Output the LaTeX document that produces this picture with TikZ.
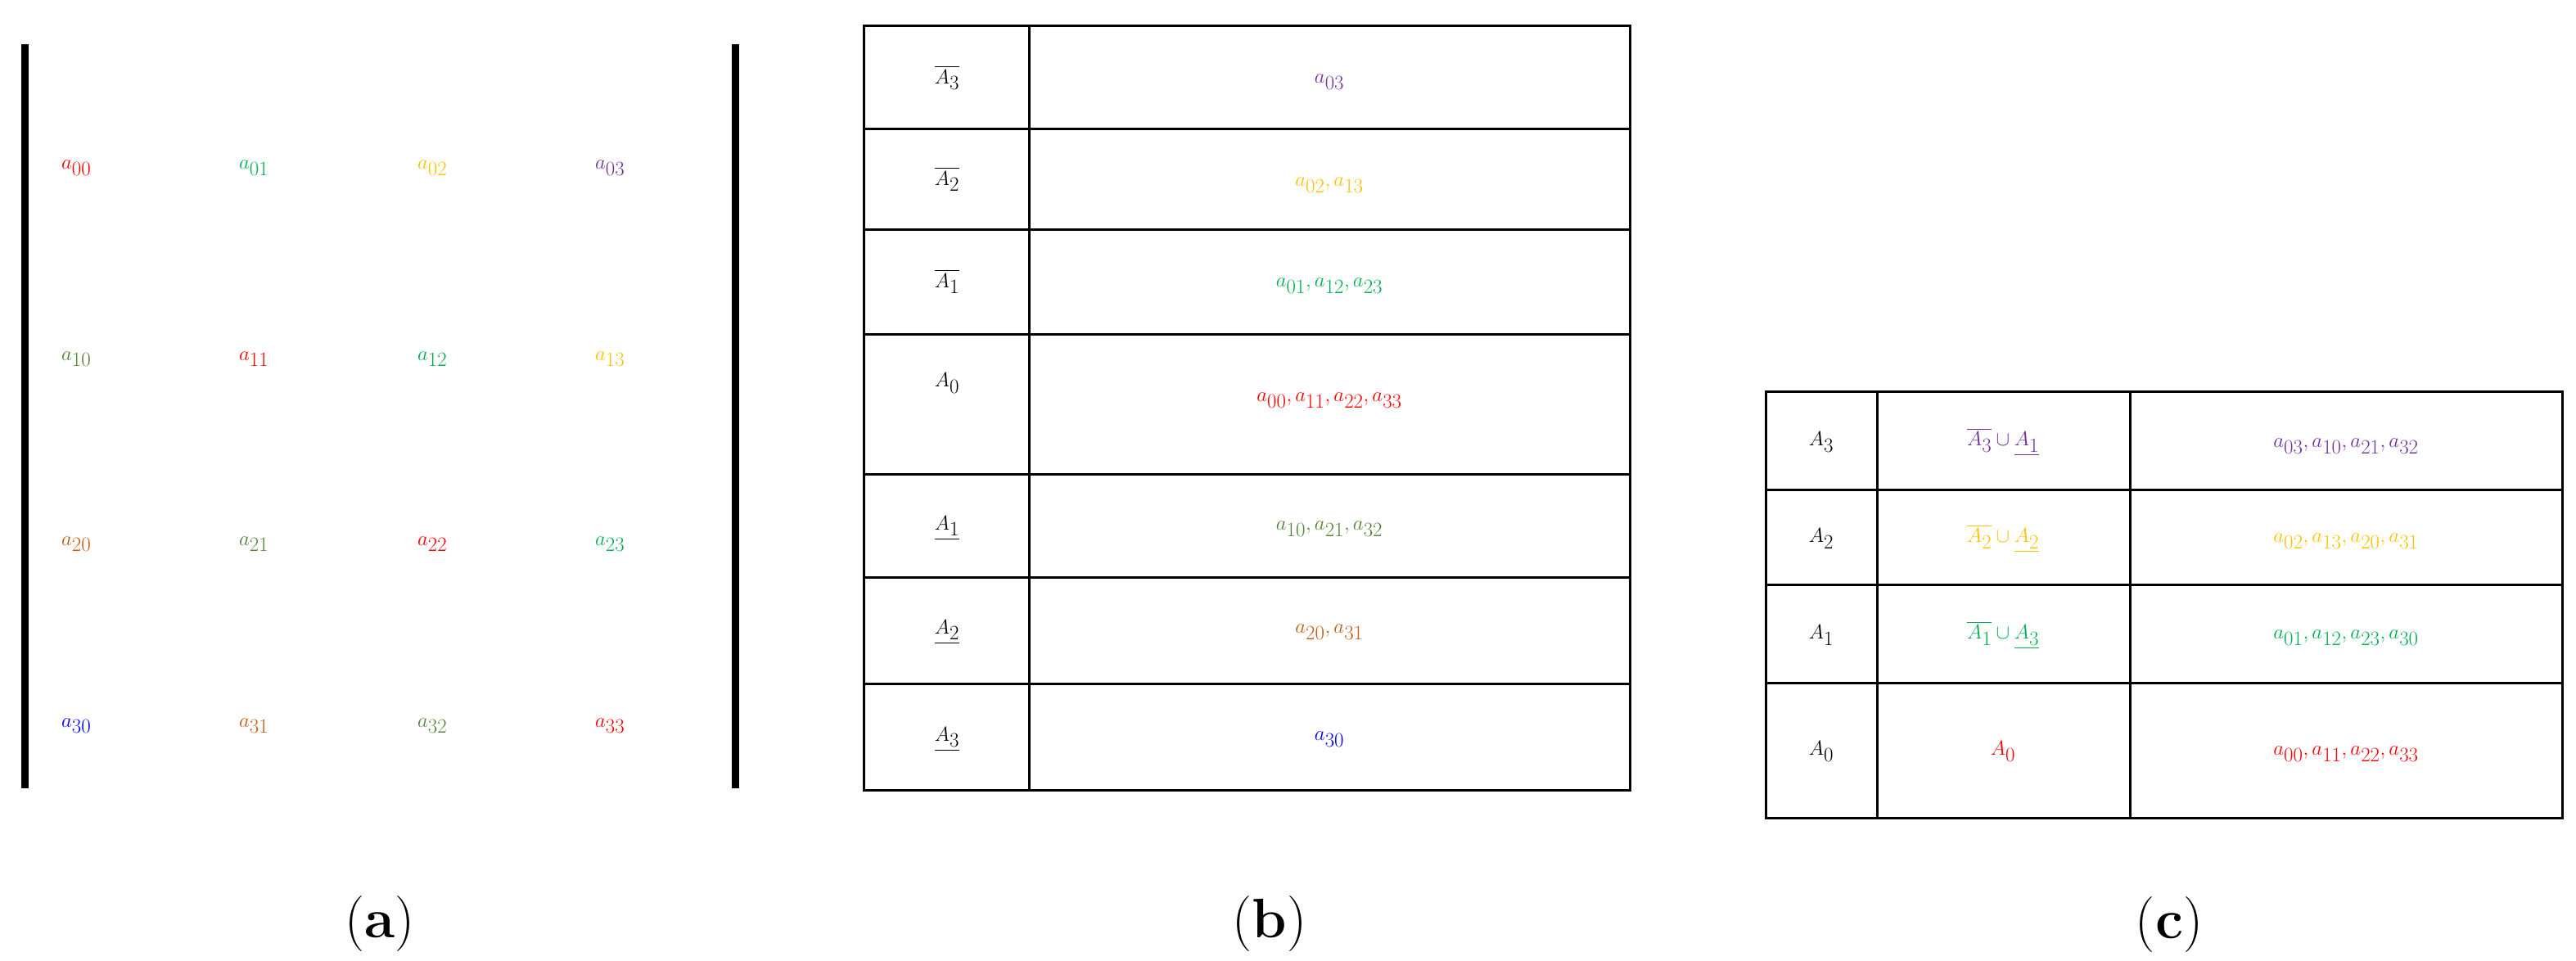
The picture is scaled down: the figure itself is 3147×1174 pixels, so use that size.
\documentclass[tikz,border=0pt]{standalone}
\usepackage{amsmath}
\definecolor{cR}{HTML}{FF0000}
\definecolor{cG}{HTML}{00B050}
\definecolor{cY}{HTML}{FFC000}
\definecolor{cP}{HTML}{7030A0}
\definecolor{cO}{HTML}{548235}
\definecolor{cB}{HTML}{C55A11}
\definecolor{cU}{HTML}{0000FF}
\tikzset{
  big/.style={inner sep=0pt, font=\fontsize{100}{110}\selectfont},
  mid/.style={inner sep=0pt, font=\fontsize{80}{90}\selectfont},
  small/.style={inner sep=0pt, font=\fontsize{58}{64}\selectfont},
  sublabel/.style={inner sep=0pt, font=\fontsize{68}{76}\selectfont},
  bar/.style={line width=9pt},
  grid/.style={line width=3pt},
}
\begin{document}
\begin{tikzpicture}[x=1pt,y=-1pt]
\useasboundingbox (0,0) rectangle (3147,1174);
% (a)
\draw[bar] (30,54) -- (30,963);
\draw[bar] (898,54) -- (898,963);
\node[big,anchor=base west,text=cR] (m00) at (75,207) {$a_{00}$};
\node[big,anchor=base west,text=cG] (m01) at (292,207) {$a_{01}$};
\node[big,anchor=base west,text=cY] (m02) at (510,207) {$a_{02}$};
\node[big,anchor=base west,text=cP] (m03) at (727,207) {$a_{03}$};
\node[big,anchor=base west,text=cO] (m10) at (75,440) {$a_{10}$};
\node[big,anchor=base west,text=cR] (m11) at (292,440) {$a_{11}$};
\node[big,anchor=base west,text=cG] (m12) at (510,440) {$a_{12}$};
\node[big,anchor=base west,text=cY] (m13) at (727,440) {$a_{13}$};
\node[big,anchor=base west,text=cB] (m20) at (75,666) {$a_{20}$};
\node[big,anchor=base west,text=cO] (m21) at (292,666) {$a_{21}$};
\node[big,anchor=base west,text=cR] (m22) at (510,666) {$a_{22}$};
\node[big,anchor=base west,text=cG] (m23) at (727,666) {$a_{23}$};
\node[big,anchor=base west,text=cU] (m30) at (75,888) {$a_{30}$};
\node[big,anchor=base west,text=cB] (m31) at (292,888) {$a_{31}$};
\node[big,anchor=base west,text=cO] (m32) at (510,888) {$a_{32}$};
\node[big,anchor=base west,text=cR] (m33) at (727,888) {$a_{33}$};
\node[sublabel] (la) at (464,1129) {(\textbf{a})};
% (b)
\draw[grid] (1055,32) rectangle (1991,965);
\draw[grid] (1257,32) -- (1257,965);
\foreach \yy in {158,281,408,579,705,835} \draw[grid] (1055,\yy) -- (1991,\yy);
\node[mid] (b1) at (1157,95) {$\overline{A_3}$};
\node[mid] (b2) at (1157,219) {$\overline{A_2}$};
\node[mid] (b3) at (1157,344) {$\overline{A_1}$};
\node[mid] (b4) at (1157,468) {$A_0$};
\node[mid] (b5) at (1157,645) {$\underline{A_1}$};
\node[mid] (b6) at (1157,772) {$\underline{A_2}$};
\node[mid] (b7) at (1157,903) {$\underline{A_3}$};
\node[big,text=cP] (c1) at (1624,100) {$a_{03}$};
\node[big,text=cY] (c2) at (1624,226) {$a_{02},a_{13}$};
\node[big,text=cG] (c3) at (1624,349) {$a_{01},a_{12},a_{23}$};
\node[big,text=cR] (c4) at (1624,489) {$a_{00},a_{11},a_{22},a_{33}$};
\node[big,text=cO] (c5) at (1624,646) {$a_{10},a_{21},a_{32}$};
\node[big,text=cB] (c6) at (1624,772) {$a_{20},a_{31}$};
\node[big,text=cU] (c7) at (1624,903) {$a_{30}$};
\node[sublabel] (lb) at (1551,1129) {(\textbf{b})};
% (c)
\draw[grid] (2157,478) rectangle (3130,999);
\draw[grid] (2293,478) -- (2293,999);
\draw[grid] (2602,478) -- (2602,999);
\foreach \yy in {598,714,834} \draw[grid] (2157,\yy) -- (3130,\yy);
\node[small] (d1) at (2225,540) {$A_3$};
\node[small] (d2) at (2225,658) {$A_2$};
\node[small] (d3) at (2225,776) {$A_1$};
\node[small] (d4) at (2225,918) {$A_0$};
\node[small,text=cP] (e1) at (2447,540) {$\overline{A_3}\cup\underline{A_1}$};
\node[small,text=cY] (e2) at (2447,658) {$\overline{A_2}\cup\underline{A_2}$};
\node[small,text=cG] (e3) at (2447,776) {$\overline{A_1}\cup\underline{A_3}$};
\node[small,text=cR] (e4) at (2447,918) {$A_0$};
\node[small,text=cP] (f1) at (2866,545) {$a_{03},a_{10},a_{21},a_{32}$};
\node[small,text=cY] (f2) at (2866,661) {$a_{02},a_{13},a_{20},a_{31}$};
\node[small,text=cG] (f3) at (2866,779) {$a_{01},a_{12},a_{23},a_{30}$};
\node[small,text=cR] (f4) at (2866,921) {$a_{00},a_{11},a_{22},a_{33}$};
\node[sublabel] (lc) at (2650,1130) {(\textbf{c})};
\end{tikzpicture}
\end{document}
